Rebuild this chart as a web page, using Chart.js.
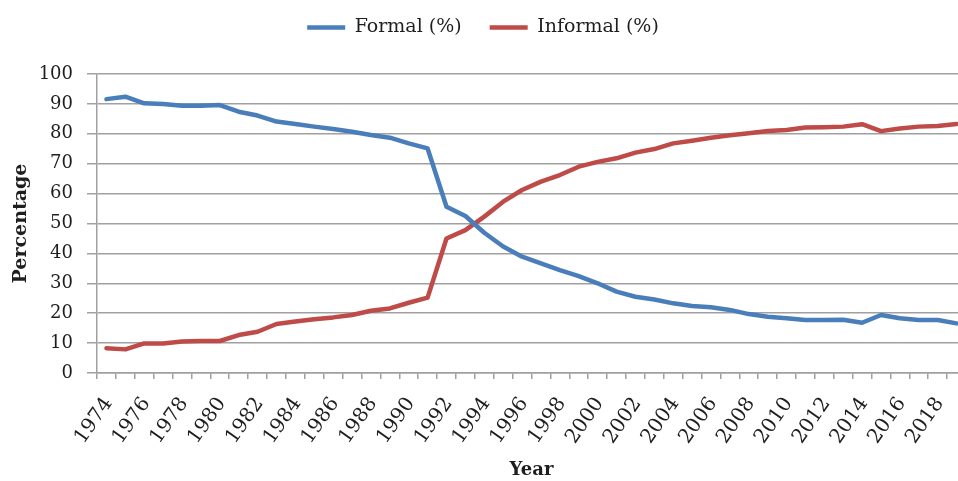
<!DOCTYPE html>
<html>
<head>
<meta charset="utf-8">
<script src="https://cdn.jsdelivr.net/npm/chart.js@4/dist/chart.umd.min.js"></script>
<style>
  html, body { margin: 0; padding: 0; background: #ffffff; overflow: hidden; }
  #wrap { width: 968px; height: 481px; position: relative; }
</style>
</head>
<body>
<div id="wrap"><canvas id="c" width="968" height="481"></canvas></div>
<script>
const years = [
  1974, 1975, 1976, 1977, 1978, 1979, 1980, 1981, 1982, 1983,
  1984, 1985, 1986, 1987, 1988, 1989, 1990, 1991, 1992, 1993,
  1994, 1995, 1996, 1997, 1998, 1999, 2000, 2001, 2002, 2003,
  2004, 2005, 2006, 2007, 2008, 2009, 2010, 2011, 2012, 2013,
  2014, 2015, 2016, 2017, 2018, 2019
];
const formalPct = [
  91.6, 92.4, 90.2, 90.0, 89.4, 89.4, 89.6, 87.4, 86.1, 84.1,
  83.3, 82.4, 81.6, 80.7, 79.6, 78.7, 76.8, 75.1, 55.6, 52.5,
  46.9, 42.3, 38.9, 36.7, 34.4, 32.4, 30.0, 27.2, 25.5, 24.6,
  23.3, 22.4, 22.0, 21.1, 19.7, 18.8, 18.3, 17.7, 17.7, 17.8,
  16.8, 19.4, 18.3, 17.7, 17.7, 16.6
];
const informalPct = [
  8.3, 7.9, 9.9, 9.9, 10.5, 10.7, 10.7, 12.7, 13.8, 16.4,
  17.2, 18.0, 18.6, 19.4, 20.8, 21.6, 23.5, 25.2, 45.0, 47.8,
  52.3, 57.3, 61.2, 64.0, 66.2, 69.0, 70.6, 71.8, 73.7, 74.9,
  76.8, 77.7, 78.7, 79.5, 80.2, 80.9, 81.3, 82.1, 82.2, 82.4,
  83.2, 80.9, 81.8, 82.4, 82.6, 83.3
];
const seriesNames = ['Formal (%)', 'Informal (%)'];
const xTitle = 'Year';
const yTitle = 'Percentage';

const SERIF = "'DejaVu Serif', 'Liberation Serif', serif";
const TXT = '#1e1e1e';
const GRID = '#a0a0a0';

const legendHeightFix = {
  id: 'legendHeightFix',
  beforeLayout(chart) {
    const lg = chart.legend;
    if (lg && !lg._patched) {
      const orig = lg.fit;
      lg.fit = function () { orig.call(this); this.height = 84; };
      lg._patched = true;
    }
  }
};

new Chart(document.getElementById('c'), {
  type: 'line',
  data: {
    labels: years,
    datasets: [
      {
        label: seriesNames[0],
        data: formalPct,
        borderColor: '#4a7ebb',
        backgroundColor: '#4a7ebb',
        borderWidth: 4.5,
        pointRadius: 0,
        tension: 0,
        borderCapStyle: 'round',
        borderJoinStyle: 'round'
      },
      {
        label: seriesNames[1],
        data: informalPct,
        borderColor: '#be4b48',
        backgroundColor: '#be4b48',
        borderWidth: 4.5,
        pointRadius: 0,
        tension: 0,
        borderCapStyle: 'round',
        borderJoinStyle: 'round'
      }
    ]
  },
  plugins: [legendHeightFix],
  options: {
    responsive: false,
    animation: false,
    devicePixelRatio: 1,
    layout: { padding: { top: -10, right: 2, bottom: 0, left: 0 } },
    plugins: {
      tooltip: { enabled: false },
      legend: {
        display: true,
        position: 'top',
        labels: {
          usePointStyle: true,
          pointStyle: 'line',
          pointStyleWidth: 38,
          padding: 28,
          color: TXT,
          font: { family: SERIF, size: 19 }
        }
      }
    },
    scales: {
      x: {
        type: 'category',
        offset: true,
        grid: {
          offset: true,
          drawOnChartArea: false,
          drawTicks: true,
          tickLength: 6,
          color: GRID,
          lineWidth: 1.5
        },
        border: { display: true, color: GRID, width: 1.5 },
        ticks: {
          autoSkip: false,
          minRotation: 55,
          maxRotation: 55,
          padding: 14,
          labelOffset: 2,
          color: TXT,
          font: { family: SERIF, size: 20 },
          callback: function (value, index) {
            const y = years[index];
            return (y % 2 === 0) ? String(y) : '';
          }
        },
        title: {
          display: true,
          text: xTitle,
          color: TXT,
          font: { family: SERIF, size: 18, weight: 'bold' },
          padding: { top: 0, bottom: 0 }
        },
        afterFit(scale) {
          scale.height = 108;
          scale.paddingLeft = 0;
          scale.paddingRight = 0;
        }
      },
      y: {
        min: 0,
        max: 100,
        ticks: {
          stepSize: 10,
          padding: 14,
          color: TXT,
          font: { family: SERIF, size: 18 }
        },
        grid: {
          color: GRID,
          lineWidth: 1.5,
          drawTicks: true,
          tickLength: 10
        },
        border: { display: true, color: GRID, width: 1.5 },
        title: {
          display: true,
          text: yTitle,
          color: TXT,
          font: { family: SERIF, size: 19, weight: 'bold' },
          padding: { top: 10, bottom: 0 }
        },
        afterFit(scale) { scale.width = 97; }
      }
    }
  }
});
</script>
</body>
</html>
